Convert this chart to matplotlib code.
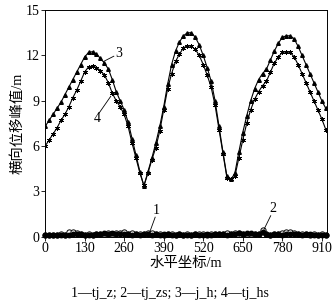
import numpy as np
import matplotlib.pyplot as plt

plt.rcParams['font.family'] = ['Liberation Serif', 'Noto Sans CJK SC']

# horizontal coordinate of the sampled points, m (13 m step)
x = np.arange(0, 924, 13)

# 3 -- j_h
j_h = [7.3, 7.7, 8.1, 8.5, 8.9, 9.4, 9.9, 10.4, 10.9, 11.4, 11.9, 12.2, 12.25, 12.1,
       11.8, 11.5, 11.1, 10.4, 9.6, 9.0, 8.4, 7.6, 6.5, 5.4, 4.3, 3.35, 4.3, 5.2,
       6.2, 7.3, 8.6, 10.1, 11.4, 12.3, 12.9, 13.3, 13.5, 13.5, 13.2, 12.7, 12.0, 11.2,
       10.3, 9.0, 7.3, 5.6, 4.0, 3.8, 4.2, 5.6, 6.9, 8.0, 9.0, 9.8, 10.4, 10.8,
       11.1, 11.7, 12.3, 12.8, 13.2, 13.3, 13.3, 13.1, 12.6, 12.0, 11.4, 10.8, 10.2, 9.6,
       9.0, 8.5]
# 4 -- tj_hs
tj_hs = [6.0, 6.4, 6.8, 7.2, 7.7, 8.1, 8.6, 9.2, 9.7, 10.3, 10.9, 11.25, 11.3, 11.2,
         11.0, 10.7, 10.2, 9.5, 9.0, 8.6, 8.1, 7.3, 6.2, 5.2, 4.2, 3.4, 4.2, 5.1,
         5.9, 7.0, 8.4, 9.8, 10.8, 11.6, 12.1, 12.5, 12.65, 12.6, 12.4, 12.0, 11.4, 10.7,
         9.9, 8.7, 7.1, 5.5, 3.9, 3.8, 4.0, 5.2, 6.4, 7.5, 8.4, 9.1, 9.6, 10.0,
         10.3, 10.9, 11.5, 11.9, 12.2, 12.25, 12.2, 11.9, 11.4, 10.8, 10.2, 9.6, 9.0, 8.4,
         7.8, 7.1]
# 1 -- tj_z
tj_z = [0.12, 0.10, 0.12, 0.14, 0.12, 0.15, 0.13, 0.18, 0.16, 0.20, 0.14, 0.12, 0.15, 0.18,
        0.22, 0.28, 0.20, 0.25, 0.22, 0.18, 0.20, 0.16, 0.15, 0.18, 0.14, 0.16, 0.20, 0.15,
        0.18, 0.14, 0.16, 0.20, 0.15, 0.12, 0.16, 0.14, 0.12, 0.15, 0.18, 0.14, 0.12, 0.16,
        0.14, 0.18, 0.20, 0.16, 0.14, 0.18, 0.20, 0.25, 0.22, 0.28, 0.24, 0.20, 0.18, 0.30,
        0.16, 0.14, 0.16, 0.18, 0.14, 0.16, 0.20, 0.18, 0.16, 0.14, 0.16, 0.18, 0.15, 0.12,
        0.14, 0.15]
# 2 -- tj_zs
tj_zs = [0.14, 0.12, 0.15, 0.13, 0.16, 0.14, 0.30, 0.32, 0.28, 0.18, 0.15, 0.17, 0.14, 0.20,
         0.16, 0.18, 0.25, 0.22, 0.28, 0.24, 0.30, 0.18, 0.26, 0.20, 0.16, 0.22, 0.28, 0.24,
         0.20, 0.17, 0.15, 0.18, 0.16, 0.14, 0.17, 0.15, 0.16, 0.14, 0.18, 0.16, 0.20, 0.15,
         0.17, 0.16, 0.18, 0.22, 0.26, 0.20, 0.24, 0.26, 0.22, 0.18, 0.20, 0.17, 0.16, 0.42,
         0.18, 0.15, 0.17, 0.20, 0.26, 0.30, 0.32, 0.28, 0.22, 0.18, 0.16, 0.15, 0.17, 0.14,
         0.16, 0.15]

xticks = [0, 130, 260, 390, 520, 650, 780, 910]
yticks = [0, 3, 6, 9, 12, 15]

fig = plt.figure(figsize=(3.34, 3.06), dpi=100)
ax = fig.add_axes([0.135, 0.226, 0.844, 0.741])

ax.plot(x, j_h, '-k', lw=0.8, marker='^', ms=2.6)
ax.plot(x, tj_hs, '-k', lw=0.8, marker=(6, 2, 0), ms=3.5, mew=0.6)
ax.plot(x, tj_zs, '-k', lw=0.8, marker='o', ms=3.8, mfc='white', mew=0.7, clip_on=False)
ax.plot(x, tj_z, '-k', lw=0.8, marker='o', ms=3.2, clip_on=False)

# curve number labels with leader lines
ax.plot([226, 192], [11.95, 11.6], 'k-', lw=0.6)
ax.text(230, 12.1, '3', fontsize=10, va='center')
ax.plot([178, 216], [8.2, 9.3], 'k-', lw=0.6)
ax.text(170, 7.85, '4', fontsize=10, va='center', ha='center')
ax.plot([362, 343], [1.3, 0.25], 'k-', lw=0.6)
ax.text(365, 1.75, '1', fontsize=10, va='center', ha='center')
ax.plot([742, 720], [1.4, 0.5], 'k-', lw=0.6)
ax.text(748, 1.9, '2', fontsize=10, va='center', ha='center')

ax.set_xlim(0, 927)
ax.set_ylim(0, 15)
ax.set_xticks(xticks)
ax.set_yticks(yticks)
ax.tick_params(direction='out', length=3, width=0.6, labelsize=10, pad=1)
for s in ax.spines.values():
    s.set_linewidth(0.7)

ax.set_xlabel('水平坐标/m', fontsize=10.4, labelpad=1)
ax.set_ylabel('横向位移峰值/m', fontsize=10.4, labelpad=1)

fig.text(0.51, 0.03, '1—tj_z; 2—tj_zs; 3—j_h; 4—tj_hs', fontsize=10, ha='center')

fig.savefig('out.png', dpi=100)
